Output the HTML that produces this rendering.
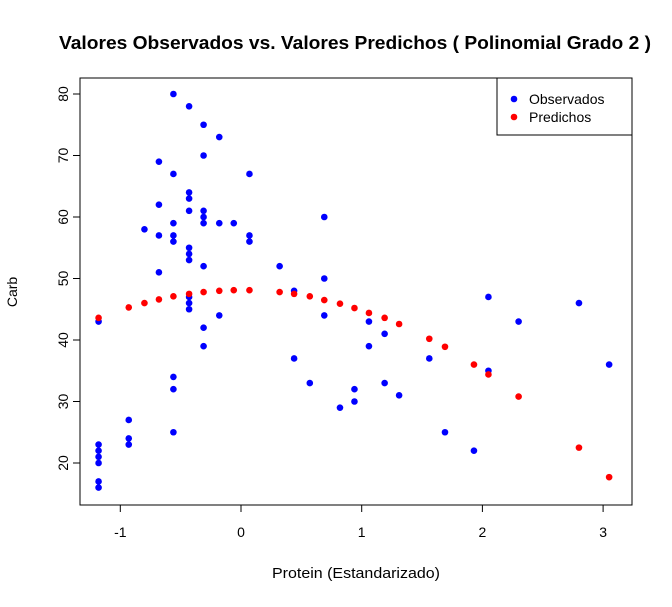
<!DOCTYPE html>
<html><head><meta charset="utf-8"><style>
body{margin:0;background:#fff}
svg text{font-family:"Liberation Sans",Arial,sans-serif}
</style></head><body>
<svg id="chart" width="672" height="602" xmlns="http://www.w3.org/2000/svg">
<text x="355" y="49" text-anchor="middle" font-size="18" font-weight="bold" textLength="592" lengthAdjust="spacingAndGlyphs">Valores Observados vs. Valores Predichos ( Polinomial Grado 2 )</text>
<rect x="80" y="78" width="552" height="427" fill="none" stroke="#000"/>
<g id="axes"></g>
<g id="marks"></g>
<text x="356" y="578" text-anchor="middle" font-size="15" textLength="168" lengthAdjust="spacingAndGlyphs">Protein (Estandarizado)</text>
<text transform="translate(17,292) rotate(-90)" text-anchor="middle" font-size="14">Carb</text>
<g>
<rect x="497" y="78" width="135" height="57" fill="#fff" stroke="#000"/>
<circle cx="514" cy="99" r="3.3" fill="#0000ff"/>
<text x="529" y="104" font-size="14">Observados</text>
<circle cx="514" cy="117" r="3.3" fill="#ff0000"/>
<text x="529" y="122" font-size="14">Predichos</text>
</g>
</svg>
<script>
const obsX=[-1.18,-1.18,-1.18,-1.18,-1.18,-1.18,-1.18,-0.93,-0.93,-0.93,-0.80,-0.68,-0.68,-0.68,-0.68,-0.56,-0.56,-0.56,-0.56,-0.56,-0.56,-0.56,-0.56,-0.43,-0.43,-0.43,-0.43,-0.43,-0.43,-0.43,-0.43,-0.43,-0.43,-0.31,-0.31,-0.31,-0.31,-0.31,-0.31,-0.31,-0.31,-0.18,-0.18,-0.18,-0.06,0.07,0.07,0.07,0.32,0.44,0.44,0.57,0.69,0.69,0.69,0.82,0.94,0.94,1.06,1.06,1.19,1.19,1.31,1.56,1.69,1.93,2.05,2.05,2.30,2.80,3.05];
const obsY=[43,23,22,21,20,17,16,27,24,23,58,69,62,57,51,80,67,59,57,56,34,32,25,78,64,63,61,55,54,53,47,46,45,75,70,61,60,59,52,42,39,73,59,44,59,67,57,56,52,48,37,33,60,50,44,29,32,30,43,39,41,33,31,37,25,22,47,35,43,46,36];
const predX=[-1.18,-0.93,-0.80,-0.68,-0.56,-0.43,-0.31,-0.18,-0.06,0.07,0.32,0.44,0.57,0.69,0.82,0.94,1.06,1.19,1.31,1.56,1.69,1.93,2.05,2.30,2.80,3.05];
const predY=[43.6,45.3,46,46.6,47.1,47.5,47.8,48,48.1,48.1,47.8,47.5,47.1,46.5,45.9,45.2,44.4,43.6,42.6,40.2,38.9,36,34.4,30.8,22.5,17.7];
const xTicks=[-1,0,1,2,3];
const yTicks=[20,30,40,50,60,70,80];
const NS="http://www.w3.org/2000/svg";
const sx=v=>241+120.7*v, sy=v=>94+(80-v)*6.15;
function mk(t,a,p){const e=document.createElementNS(NS,t);for(const k in a)e.setAttribute(k,a[k]);p.appendChild(e);return e;}
const ax=document.getElementById('axes'), mg=document.getElementById('marks');
const xl=mk('line',{x1:sx(-1),x2:sx(3),y1:505,y2:505,stroke:'#000'},ax);


const yl=mk('line',{x1:80,x2:80,y1:sy(20),y2:sy(80),stroke:'#000'},ax);


xTicks.forEach(t=>{mk('line',{x1:sx(t),x2:sx(t),y1:505,y2:512,stroke:'#000'},ax);
const tx=mk('text',{x:sx(t),y:537,'text-anchor':'middle','font-size':14},ax);tx.textContent=t;

});
yTicks.forEach(t=>{mk('line',{x1:73,x2:80,y1:sy(t),y2:sy(t),stroke:'#000'},ax);
const tx=mk('text',{transform:`translate(68,${sy(t)}) rotate(-90)`,'text-anchor':'middle','font-size':14},ax);tx.textContent=t;

});
obsX.forEach((x,i)=>{const c=mk('circle',{cx:sx(x),cy:sy(obsY[i]),r:3.3,fill:'#0000ff'},mg);

});
predX.forEach((x,i)=>{const c=mk('circle',{cx:sx(x),cy:sy(predY[i]),r:3.3,fill:'#ff0000'},mg);

});
</script>
</body></html>
